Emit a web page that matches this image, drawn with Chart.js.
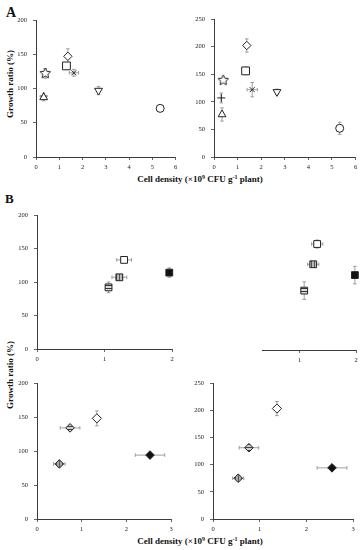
<!DOCTYPE html>
<html>
<head>
<meta charset="utf-8">
<script src="https://cdn.jsdelivr.net/npm/chart.js@4.4.1/dist/chart.umd.min.js"></script>
<style>
  body { margin: 0; background: #fff; width: 362px; height: 550px; position: relative; overflow: hidden;
         font-family: "Liberation Serif", "Times New Roman", serif; color: #111; }
  canvas { position: absolute; }
  .tag { position: absolute; font-weight: bold; line-height: 1; }
  .ytitle { position: absolute; font-weight: bold; font-size: 9px; white-space: nowrap; line-height: 1;
            transform: translate(-50%, -50%) rotate(-90deg); }
  .xtitle { position: absolute; font-weight: bold; font-size: 9px; white-space: nowrap; line-height: 1;
            transform: translateX(-50%); }
  sup { font-size: 6px; vertical-align: 3px; line-height: 0; }
</style>
</head>
<body>
<div class="tag" style="left:6px;top:6px;font-size:14px">A</div>
<div class="tag" style="left:5px;top:192px;font-size:13px">B</div>
<div class="ytitle" style="left:10px;top:84px">Growth ratio (%)</div>
<div class="ytitle" style="left:10px;top:375px">Growth ratio (%)</div>
<div class="xtitle" style="left:200px;top:175px">Cell density (×10<sup>9</sup> CFU g<sup>-1</sup> plant)</div>
<div class="xtitle" style="left:200px;top:537px">Cell density (×10<sup>9</sup> CFU g<sup>-1</sup> plant)</div>

<script>
/* ======================= DATA ======================= */
// panel A, left (0-200 %)
const A_L_MARK = ['tri', 'plus', 'star', 'square', 'diamond', 'cross', 'invtri', 'circle'];
const A_L_X  = [0.33, 0.33, 0.40, 1.31, 1.37, 1.63, 2.69, 5.34];
const A_L_Y  = [87, 89, 122, 133, 147, 123, 97, 71];
const A_L_XE = [0, 0, 0, 0, 0, 0.2, 0, 0];
const A_L_YE = [5, 0, 7, 5, 11, 5, 6, 4];

// panel A, right (0-250 %)
const A_R_MARK = ['tri', 'plus', 'star', 'square', 'diamond', 'cross', 'invtri', 'circle'];
const A_R_X  = [0.34, 0.31, 0.39, 1.34, 1.39, 1.62, 2.67, 5.33];
const A_R_Y  = [77, 107, 139, 156, 202, 122, 118, 52];
const A_R_XE = [0, 0, 0, 0, 0, 0.22, 0, 0];
const A_R_YE = [12, 9, 4, 7, 12, 13, 5, 11];

// panel B, top (squares)
const B_T_MARK = ['sqOpen', 'sqGray', 'sqStripe', 'sqBlack'];
const B_TL_X  = [1.29, 1.22, 1.06, 1.96];
const B_TL_Y  = [133, 107, 92, 114];
const B_TL_XE = [0.11, 0.11, 0, 0];
const B_TL_YE = [4, 4, 8, 7];
const B_TR_X  = [1.31, 1.24, 1.08, 1.98];
const B_TR_Y  = [157, 127, 88, 111];
const B_TR_XE = [0.1, 0.1, 0, 0];
const B_TR_YE = [6, 3, 13, 13];

// panel B, bottom (diamonds)
const B_B_MARK = ['dmOpen', 'dmStripe', 'dmGray', 'dmBlack'];
const B_BL_X  = [1.34, 0.74, 0.50, 2.53];
const B_BL_Y  = [148, 134, 81, 94];
const B_BL_XE = [0, 0.22, 0.13, 0.33];
const B_BL_YE = [11, 4, 3, 3];
const B_BR_X  = [1.37, 0.77, 0.54, 2.55];
const B_BR_Y  = [203, 131, 75, 94];
const B_BR_XE = [0, 0.21, 0.12, 0.32];
const B_BR_YE = [13, 5, 4, 4];

// tick labels
const X_TICKS_A  = [0, 1, 2, 3, 4, 5, 6];
const X_TICKS_BT = [0, 1, 2];
const X_TICKS_BTR = [1, 2];
const X_TICKS_BB = [0, 1, 2, 3];
const Y_TICKS_200 = [0, 50, 100, 150, 200];
const Y_TICKS_250 = [0, 50, 100, 150, 200, 250];

/* ======================= STYLE ======================= */
const FONT = '"Liberation Serif", "Times New Roman", serif';
const AX = '#3c3c3c';
const INK = '#222';
const ERR = '#888';
const YW = 24, XH = 16, PT = 12, PR = 6;

function stripes(dir, bg, fg) {
  const c = document.createElement('canvas');
  c.width = c.height = 3;
  const g = c.getContext('2d');
  g.fillStyle = bg; g.fillRect(0, 0, 3, 3);
  g.fillStyle = fg;
  if (dir === 'h') g.fillRect(0, 1, 3, 1); else g.fillRect(1, 0, 1, 3);
  return g.createPattern(c, 'repeat');
}

function starImg(r) {
  const s = Math.ceil(r * 2 + 2);
  const c = document.createElement('canvas');
  c.width = c.height = s;
  const g = c.getContext('2d');
  g.beginPath();
  for (let i = 0; i < 10; i++) {
    const a = -Math.PI / 2 + i * Math.PI / 5;
    const rr = i % 2 ? r * 0.48 : r;
    g.lineTo(s / 2 + rr * Math.cos(a), s / 2 + rr * Math.sin(a));
  }
  g.closePath();
  g.fillStyle = '#fff'; g.fill();
  g.strokeStyle = INK; g.lineWidth = 1; g.stroke();
  return c;
}

const MARK = {
  tri:      { pointStyle: 'triangle', radius: 4.5, bg: '#fff' },
  plus:     { pointStyle: 'cross', radius: 4, bg: '#fff' },
  star:     { pointStyle: starImg(5.5), radius: 5 },
  square:   { pointStyle: 'rect', radius: 5.5, bg: '#fff' },
  diamond:  { pointStyle: 'rectRot', radius: 4.2, bg: '#fff' },
  cross:    { pointStyle: 'crossRot', radius: 3.5, bg: '#fff' },
  invtri:   { pointStyle: 'triangle', radius: 4.5, rotation: 180, bg: '#fff' },
  circle:   { pointStyle: 'circle', radius: 4, bg: '#fff' },
  sqOpen:   { pointStyle: 'rect', radius: 4.8, bg: '#fff' },
  sqGray:   { pointStyle: 'rect', radius: 4.8, bg: stripes('v', '#bbb', '#555') },
  sqStripe: { pointStyle: 'rect', radius: 4.8, bg: stripes('h', '#ddd', '#333') },
  sqBlack:  { pointStyle: 'rect', radius: 4.8, bg: '#111' },
  dmOpen:   { pointStyle: 'rectRot', radius: 4.6, bg: '#fff' },
  dmStripe: { pointStyle: 'rectRot', radius: 4.3, bg: stripes('h', '#ccc', '#444') },
  dmGray:   { pointStyle: 'rectRot', radius: 4.3, bg: stripes('v', '#aaa', '#555') },
  dmBlack:  { pointStyle: 'rectRot', radius: 4.3, bg: '#111' }
};

/* ===================== ERROR BARS ===================== */
const errorBars = {
  id: 'errorBars',
  beforeDatasetsDraw(chart) {
    const { ctx, scales: { x, y } } = chart;
    ctx.save();
    ctx.strokeStyle = ERR;
    ctx.lineWidth = 0.8;
    const seg = (x1, y1, x2, y2) => { ctx.beginPath(); ctx.moveTo(x1, y1); ctx.lineTo(x2, y2); ctx.stroke(); };
    chart.data.datasets.forEach(ds => ds.data.forEach(p => {
      const cx = x.getPixelForValue(p.x), cy = y.getPixelForValue(p.y);
      if (p.ey) {
        const t = y.getPixelForValue(p.y + p.ey), b = y.getPixelForValue(p.y - p.ey);
        seg(cx, t, cx, b); seg(cx - 1.8, t, cx + 1.8, t); seg(cx - 1.8, b, cx + 1.8, b);
      }
      if (p.ex) {
        const l = x.getPixelForValue(p.x - p.ex), r = x.getPixelForValue(p.x + p.ex);
        seg(l, cy, r, cy); seg(l, cy - 1.8, l, cy + 1.8); seg(r, cy - 1.8, r, cy + 1.8);
      }
    }));
    ctx.restore();
  }
};

/* ======================= PANELS ======================= */
function axis(min, max, ticks, isX, show = true) {
  return {
    type: 'linear', min, max, display: show,
    afterBuildTicks: s => { s.ticks = ticks.map(v => ({ value: v })); },
    afterFit: s => {
      if (isX) { s.height = XH; s.paddingLeft = s.paddingRight = 0; }
      else { s.width = YW; s.paddingTop = s.paddingBottom = 0; }
    },
    grid: { display: true, drawOnChartArea: false, tickLength: 3, color: AX, lineWidth: 0.8 },
    border: { display: true, color: AX, width: 1 },
    ticks: { font: { family: FONT, size: 6.5 }, color: INK, padding: isX ? 3 : 6, maxRotation: 0, autoSkip: false }
  };
}

function panel(area, xr, xt, yr, yt, marks, xs, ys, xe, ye, showY = true) {
  const yw = showY ? YW : 0;
  const cv = document.createElement('canvas');
  cv.width = area.R - area.L + yw + PR;
  cv.height = area.B - area.T + PT + XH;
  cv.style.left = (area.L - yw) + 'px';
  cv.style.top = (area.T - PT) + 'px';
  document.body.appendChild(cv);

  const datasets = marks.map((m, i) => {
    const st = MARK[m];
    return {
      data: [{ x: xs[i], y: ys[i], ex: xe[i], ey: ye[i] }],
      pointStyle: st.pointStyle,
      pointRadius: st.radius,
      pointRotation: st.rotation || 0,
      backgroundColor: st.bg || '#fff',
      borderColor: INK,
      borderWidth: 1
    };
  });

  new Chart(cv, {
    type: 'scatter',
    data: { datasets },
    options: {
      responsive: false,
      animation: false,
      devicePixelRatio: 1,
      clip: false,
      layout: { padding: { top: PT, right: PR, left: 0, bottom: 0 } },
      plugins: { legend: { display: false }, tooltip: { enabled: false } },
      scales: {
        x: axis(xr[0], xr[1], xt, true),
        y: axis(yr[0], yr[1], yt, false, showY)
      }
    },
    plugins: [errorBars]
  });
}

panel({ L: 36, R: 176, T: 20, B: 157 }, [0, 6], X_TICKS_A, [0, 200], Y_TICKS_200,
      A_L_MARK, A_L_X, A_L_Y, A_L_XE, A_L_YE);
panel({ L: 214, R: 356, T: 19, B: 157 }, [0, 6], X_TICKS_A, [0, 250], Y_TICKS_250,
      A_R_MARK, A_R_X, A_R_Y, A_R_XE, A_R_YE);
panel({ L: 37, R: 172, T: 215, B: 349 }, [0, 2], X_TICKS_BT, [0, 200], Y_TICKS_200,
      B_T_MARK, B_TL_X, B_TL_Y, B_TL_XE, B_TL_YE);
panel({ L: 238, R: 356, T: 215, B: 350 }, [0.33, 2], X_TICKS_BTR, [0, 200], Y_TICKS_200,
      B_T_MARK, B_TR_X, B_TR_Y, B_TR_XE, B_TR_YE, false);
panel({ L: 37, R: 171, T: 383, B: 519 }, [0, 3], X_TICKS_BB, [0, 200], Y_TICKS_200,
      B_B_MARK, B_BL_X, B_BL_Y, B_BL_XE, B_BL_YE);
panel({ L: 213, R: 353, T: 383, B: 519 }, [0, 3], X_TICKS_BB, [0, 250], Y_TICKS_250,
      B_B_MARK, B_BR_X, B_BR_Y, B_BR_XE, B_BR_YE);
</script>
</body>
</html>
